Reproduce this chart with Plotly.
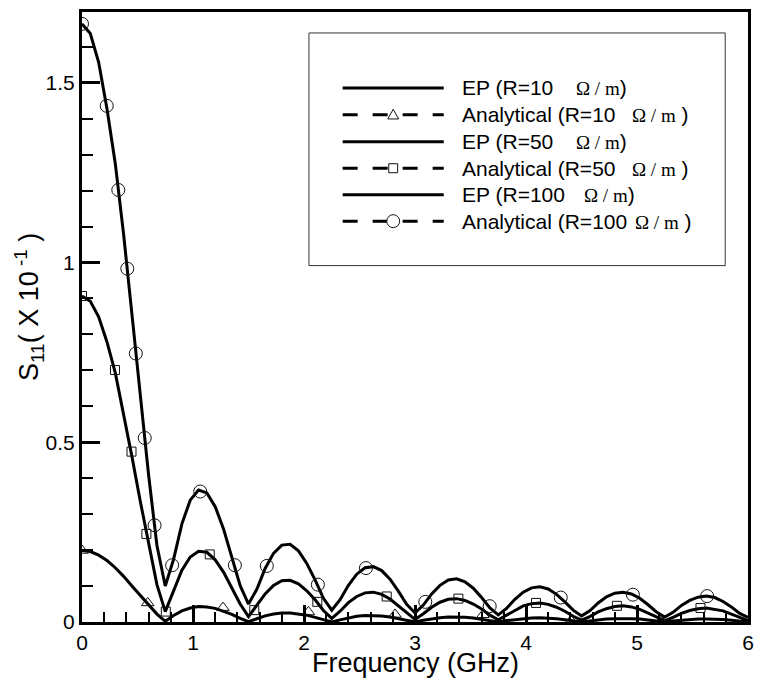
import plotly.graph_objects as go

# ---------------- data ----------------
freq = [0.000, 0.075, 0.150, 0.225, 0.300, 0.375, 0.450, 0.525, 0.600, 0.675,
        0.750, 0.825, 0.900, 0.975, 1.050, 1.125, 1.200, 1.275, 1.350, 1.425,
        1.500, 1.575, 1.650, 1.725, 1.800, 1.875, 1.950, 2.025, 2.100, 2.175,
        2.250, 2.325, 2.400, 2.475, 2.550, 2.625, 2.700, 2.775, 2.850, 2.925,
        3.000, 3.075, 3.150, 3.225, 3.300, 3.375, 3.450, 3.525, 3.600, 3.675,
        3.750, 3.825, 3.900, 3.975, 4.050, 4.125, 4.200, 4.275, 4.350, 4.425,
        4.500, 4.575, 4.650, 4.725, 4.800, 4.875, 4.950, 5.025, 5.100, 5.175,
        5.250, 5.325, 5.400, 5.475, 5.550, 5.625, 5.700, 5.775, 5.850, 5.925,
        6.000]

ep_r100 = [1.664, 1.637, 1.557, 1.428, 1.275, 1.078, 0.856, 0.629, 0.409, 0.213,
           0.100, 0.174, 0.273, 0.339, 0.367, 0.359, 0.321, 0.259, 0.182, 0.101,
           0.050, 0.091, 0.149, 0.191, 0.214, 0.216, 0.198, 0.163, 0.117, 0.066,
           0.033, 0.062, 0.102, 0.133, 0.151, 0.154, 0.143, 0.119, 0.086, 0.049,
           0.025, 0.047, 0.078, 0.102, 0.117, 0.120, 0.112, 0.094, 0.068, 0.039,
           0.020, 0.038, 0.063, 0.083, 0.095, 0.098, 0.092, 0.077, 0.056, 0.033,
           0.017, 0.031, 0.053, 0.070, 0.080, 0.083, 0.078, 0.066, 0.048, 0.028,
           0.014, 0.027, 0.046, 0.060, 0.069, 0.072, 0.068, 0.057, 0.042, 0.024,
           0.013]

ep_r50 = [0.907, 0.892, 0.849, 0.779, 0.693, 0.580, 0.460, 0.336, 0.215, 0.104,
          0.029, 0.085, 0.144, 0.181, 0.197, 0.194, 0.173, 0.139, 0.096, 0.050,
          0.015, 0.045, 0.078, 0.102, 0.115, 0.116, 0.106, 0.087, 0.062, 0.032,
          0.010, 0.030, 0.054, 0.071, 0.081, 0.083, 0.077, 0.064, 0.045, 0.024,
          0.007, 0.023, 0.041, 0.055, 0.063, 0.065, 0.060, 0.050, 0.036, 0.019,
          0.006, 0.019, 0.033, 0.045, 0.051, 0.053, 0.049, 0.041, 0.030, 0.016,
          0.005, 0.015, 0.028, 0.037, 0.043, 0.045, 0.042, 0.035, 0.025, 0.014,
          0.004, 0.013, 0.024, 0.032, 0.037, 0.039, 0.036, 0.031, 0.022, 0.012,
          0.004]

ep_r10 = [0.199, 0.196, 0.186, 0.171, 0.151, 0.127, 0.100, 0.073, 0.047, 0.022,
          0.002, 0.018, 0.031, 0.039, 0.043, 0.042, 0.038, 0.030, 0.021, 0.010,
          0.001, 0.009, 0.017, 0.022, 0.025, 0.025, 0.023, 0.019, 0.013, 0.007,
          0.000, 0.006, 0.012, 0.016, 0.018, 0.018, 0.017, 0.014, 0.010, 0.005,
          0.000, 0.005, 0.009, 0.012, 0.014, 0.014, 0.013, 0.011, 0.008, 0.004,
          0.000, 0.004, 0.007, 0.010, 0.011, 0.012, 0.011, 0.009, 0.006, 0.003,
          0.000, 0.003, 0.006, 0.008, 0.009, 0.010, 0.009, 0.008, 0.006, 0.003,
          0.000, 0.003, 0.005, 0.007, 0.008, 0.008, 0.008, 0.007, 0.005, 0.003,
          0.000]

an_r100_f = [0.000, 0.223, 0.327, 0.408, 0.485, 0.565, 0.654, 0.812, 1.065, 1.377,
             1.665, 2.125, 2.558, 3.093, 3.673, 4.313, 4.963, 5.632]
an_r100_v = [1.664, 1.436, 1.202, 0.983, 0.747, 0.512, 0.269, 0.158, 0.363, 0.158,
             0.156, 0.104, 0.150, 0.056, 0.044, 0.068, 0.076, 0.072]

an_r50_f = [0.000, 0.297, 0.446, 0.580, 0.755, 1.151, 1.552, 2.120, 2.745, 3.391,
            4.090, 4.819, 5.572]
an_r50_v = [0.907, 0.701, 0.474, 0.245, 0.029, 0.188, 0.033, 0.056, 0.071, 0.065,
            0.053, 0.045, 0.039]

an_r10_f = [0.000, 0.592, 1.270, 2.040, 2.820, 3.612, 4.405, 5.215]
an_r10_v = [0.199, 0.053, 0.040, 0.028, 0.021, 0.020, 0.004, 0.003]

x_ticks = [0, 1, 2, 3, 4, 5, 6]
x_tick_labels = ["0", "1", "2", "3", "4", "5", "6"]
y_ticks = [0, 0.5, 1, 1.5]
y_tick_labels = ["0", "0.5", "1", "1.5"]

legend_names = ["EP (R=10", "Analytical (R=10", "EP (R=50", "Analytical (R=50",
                "EP (R=100", "Analytical (R=100"]

# ---------------- layout geometry ----------------
W, H = 763, 683
ML, MR, MT, MB = 82, 9, 11, 61
PW, PH = W - ML - MR, H - MT - MB


def px(x):
    return (x - ML) / PW


def py(y):
    return (H - MB - y) / PH


SANS = "Liberation Sans, Arial, sans-serif"

fig = go.Figure()

for ys in (ep_r10, ep_r50, ep_r100):
    fig.add_trace(go.Scatter(x=freq, y=ys, mode="lines",
                             line=dict(color="black", width=3),
                             showlegend=False, hoverinfo="skip"))

mk_line = dict(color="#111111", width=1)
fig.add_trace(go.Scatter(x=an_r10_f, y=an_r10_v, mode="markers", showlegend=False,
                         marker=dict(symbol="triangle-up-open", size=11, line=mk_line, color="#111111")))
fig.add_trace(go.Scatter(x=an_r50_f, y=an_r50_v, mode="markers", showlegend=False,
                         marker=dict(symbol="square-open", size=9, line=mk_line, color="#111111")))
fig.add_trace(go.Scatter(x=an_r100_f, y=an_r100_v, mode="markers", showlegend=False,
                         marker=dict(symbol="circle-open", size=13, line=mk_line, color="#111111")))

axis_common = dict(
    showgrid=False, zeroline=False, showline=True, linecolor="black", linewidth=3,
    mirror=True, ticks="inside", tickcolor="black", tickwidth=3,
    tickfont=dict(family=SANS, size=21, color="black"),
)

fig.update_xaxes(range=[0, 6], tickvals=x_ticks, ticktext=x_tick_labels, ticklen=17,
                 minor=dict(dtick=0.2, ticks="inside", ticklen=10, tickwidth=1.5,
                            tickcolor="black", showgrid=False),
                 **axis_common)
fig.update_yaxes(range=[0, 1.697], tickvals=y_ticks, ticktext=y_tick_labels, ticklen=18,
                 minor=dict(dtick=0.1, ticks="inside", ticklen=11, tickwidth=1.5,
                            tickcolor="black", showgrid=False),
                 **axis_common)

shapes = []
annotations = []

# legend box
shapes.append(dict(type="rect", xref="paper", yref="paper",
                   x0=px(311), x1=px(731), y0=py(265), y1=py(32),
                   line=dict(color="#333333", width=1), fillcolor="white", layer="above"))

row_y = [87, 114, 141, 167.5, 194, 220.5]
omega_x = [578, 635, 578, 635, 587, 638]
marker_kind = [None, "tri", None, "sq", None, "circ"]

for i, name in enumerate(legend_names):
    yy = py(row_y[i])
    if marker_kind[i] is None:
        shapes.append(dict(type="line", xref="paper", yref="paper",
                           x0=px(345), x1=px(447), y0=yy, y1=yy,
                           line=dict(color="black", width=3), layer="above"))
    else:
        shapes.append(dict(type="line", xref="paper", yref="paper",
                           x0=px(345), x1=px(447), y0=yy, y1=yy,
                           line=dict(color="black", width=3, dash="15px,15px"), layer="above"))
        cx = 396
        cy = row_y[i]
        if marker_kind[i] == "circ":
            r = 6.5
            shapes.append(dict(type="circle", xref="paper", yref="paper",
                               x0=px(cx - r), x1=px(cx + r), y0=py(cy + r), y1=py(cy - r),
                               line=dict(color="#111111", width=1), fillcolor="white", layer="above"))
        elif marker_kind[i] == "sq":
            r = 4.5
            shapes.append(dict(type="rect", xref="paper", yref="paper",
                               x0=px(cx - r), x1=px(cx + r), y0=py(cy + r), y1=py(cy - r),
                               line=dict(color="#111111", width=1), fillcolor="white", layer="above"))
        else:
            r = 5.5
            path = "M {:.5f},{:.5f} L {:.5f},{:.5f} L {:.5f},{:.5f} Z".format(
                px(cx), py(cy - r), px(cx - r), py(cy + r * 0.75), px(cx + r), py(cy + r * 0.75))
            shapes.append(dict(type="path", xref="paper", yref="paper", path=path,
                               line=dict(color="#111111", width=1), fillcolor="white", layer="above"))
    annotations.append(dict(xref="paper", yref="paper", x=px(463), y=yy,
                            xanchor="left", yanchor="middle", showarrow=False,
                            text=name, font=dict(family=SANS, size=21, color="black")))
    sp = " " if i % 2 == 1 else ""
    annotations.append(dict(xref="paper", yref="paper", x=px(omega_x[i]), y=yy,
                            xanchor="left", yanchor="middle", showarrow=False,
                            text="<span style='font-family:Liberation Serif;font-size:19px'>\u03a9 / m</span>" + sp + ")",
                            font=dict(family=SANS, size=21, color="black")))

# axis titles
annotations.append(dict(xref="paper", yref="paper", x=px(418), y=py(663),
                        xanchor="center", yanchor="middle", showarrow=False,
                        text="Frequency (GHz)", font=dict(family=SANS, size=27, color="black")))
annotations.append(dict(xref="paper", yref="paper", x=px(28), y=py(306),
                        xanchor="center", yanchor="middle", showarrow=False, textangle=-90,
                        text="S<sub>11</sub>( X 10<sup> -1</sup> )",
                        font=dict(family=SANS, size=27, color="black")))

fig.update_layout(
    width=W, height=H, margin=dict(l=ML, r=MR, t=MT, b=MB),
    paper_bgcolor="white", plot_bgcolor="white",
    showlegend=False, shapes=shapes, annotations=annotations,
)

fig.write_html("out.html")
